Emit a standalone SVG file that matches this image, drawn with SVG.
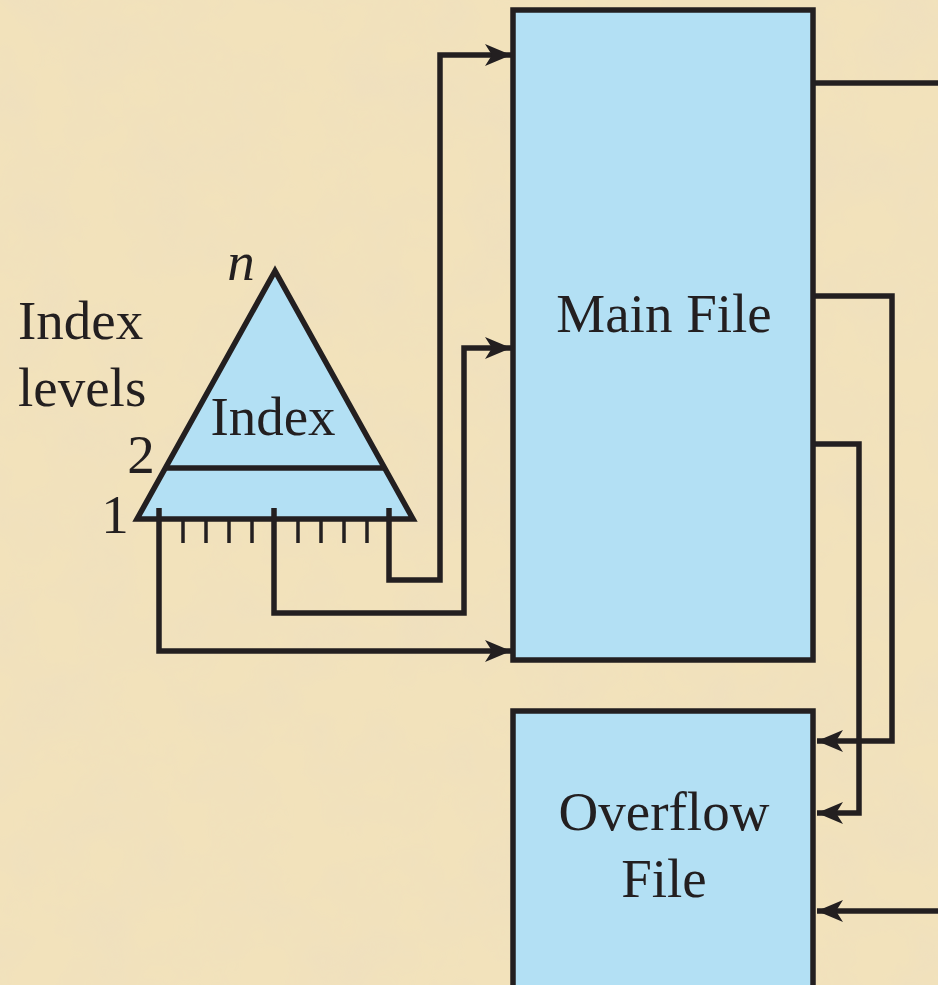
<svg xmlns="http://www.w3.org/2000/svg" width="938" height="985" viewBox="0 0 938 985">
<defs>
<style>
.box{fill:#b3e0f4;stroke:#231f20;stroke-width:5.5}
.ln{fill:none;stroke:#231f20;stroke-width:5.5}
.tk{fill:none;stroke:#231f20;stroke-width:3.5}
</style>
<marker id="ah" viewBox="0 0 26 22" refX="26" refY="11" markerWidth="26" markerHeight="22" markerUnits="userSpaceOnUse" orient="auto">
<path d="M0,0 L26,11 L0,22 L7,11 Z" fill="#231f20"/>
</marker>
<filter id="tex" x="0" y="0" width="100%" height="100%">
<feTurbulence type="fractalNoise" baseFrequency="0.015" numOctaves="4" seed="7"/>
<feColorMatrix type="matrix" values="0 0 0 0 0.86  0 0 0 0 0.74  0 0 0 0 0.52  0 0 0 1.4 -0.45"/>
<feComposite in2="SourceGraphic" operator="in"/>
</filter>
</defs>
<rect width="938" height="985" fill="#f2e2bb"/>
<rect width="938" height="985" fill="#f2e2bb" filter="url(#tex)"/>

<g id="connectors">
<polyline class="ln" points="159,519 159,651 511,651" marker-end="url(#ah)"/>
<polyline class="ln" points="274,519 274,613 464,613 464,348 511,348" marker-end="url(#ah)"/>
<polyline class="ln" points="389,519 389,580 440,580 440,55 511,55" marker-end="url(#ah)"/>
<polyline class="ln" points="813,83 940,83"/>
<polyline class="ln" points="813,296 892,296 892,741 817,741" marker-end="url(#ah)"/>
<polyline class="ln" points="813,444 859,444 859,813 817,813" marker-end="url(#ah)"/>
<polyline class="ln" points="940,911 817,911" marker-end="url(#ah)"/>
</g>

<g font-family="Liberation Serif, Times New Roman, serif" font-size="55" fill="#231f20">
<g id="main-file">
<rect class="box" x="513" y="10" width="300" height="650"/>
<text x="664" y="332" text-anchor="middle">Main File</text>
</g>

<g id="overflow-file">
<rect class="box" x="513" y="711" width="300" height="290"/>
<text x="664" y="830" text-anchor="middle">Overflow</text>
<text x="664" y="897" text-anchor="middle">File</text>
</g>

<g id="index">
<polygon class="box" points="275,271 137,519 413,519"/>
<line class="ln" x1="166" y1="468" x2="384" y2="468"/>
<line class="ln" x1="159" y1="508" x2="159" y2="521"/>
<line class="ln" x1="274" y1="508" x2="274" y2="521"/>
<line class="ln" x1="389" y1="508" x2="389" y2="521"/>
<g class="tk">
<line x1="183" y1="519" x2="183" y2="543"/>
<line x1="206" y1="519" x2="206" y2="543"/>
<line x1="229" y1="519" x2="229" y2="543"/>
<line x1="252" y1="519" x2="252" y2="543"/>
<line x1="298" y1="519" x2="298" y2="543"/>
<line x1="321" y1="519" x2="321" y2="543"/>
<line x1="344" y1="519" x2="344" y2="543"/>
<line x1="367" y1="519" x2="367" y2="543"/>
</g>
<text x="273" y="435" text-anchor="middle">Index</text>
<text x="241" y="280" text-anchor="middle" font-style="italic">n</text>
</g>

<g id="labels">
<text x="18" y="339">Index</text>
<text x="18" y="406">levels</text>
<text x="141" y="473" text-anchor="middle">2</text>
<text x="115" y="533" text-anchor="middle">1</text>
</g>
</g>
</svg>
